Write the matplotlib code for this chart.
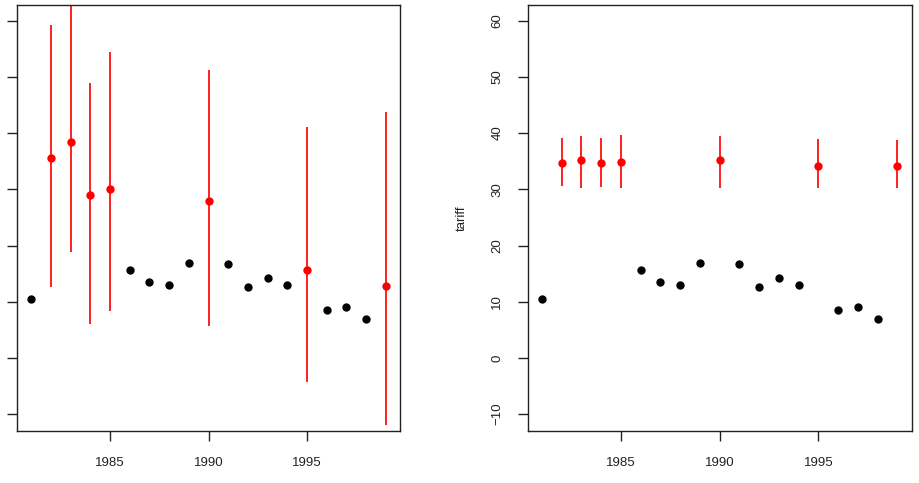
import matplotlib.pyplot as plt

plt.rcParams['font.family'] = ['Liberation Sans', 'DejaVu Sans']

# black observed points (same in both panels)
obs_years = [1981, 1986, 1987, 1988, 1989, 1991, 1992, 1993, 1994, 1996, 1997, 1998]
obs_tariff = [10.5, 15.7, 13.5, 12.9, 16.9, 16.8, 12.7, 14.2, 12.9, 8.6, 9.0, 7.0]

# red imputed points
imp_years = [1982, 1983, 1984, 1985, 1990, 1995, 1999]

# left panel: wide intervals
left_mid = [35.5, 38.4, 28.9, 30.1, 27.9, 15.7, 12.8]
left_lo = [12.7, 18.8, 6.0, 8.4, 5.7, -4.2, -12.0]
left_hi = [59.3, 66.0, 48.9, 54.4, 51.2, 41.0, 43.8]

# right panel: narrow intervals
right_mid = [34.6, 35.3, 34.7, 34.8, 35.2, 34.2, 34.1]
right_lo = [30.6, 30.3, 30.5, 30.3, 30.3, 30.3, 30.3]
right_hi = [39.2, 39.5, 39.2, 39.6, 39.5, 39.0, 38.7]

xticks = [1985, 1990, 1995]
yticks = [-10, 0, 10, 20, 30, 40, 50, 60]

fig = plt.figure(figsize=(9.2, 4.83), dpi=100)
ax1 = fig.add_axes([0.0185, 0.1077, 0.4163, 0.882])
ax2 = fig.add_axes([0.5734, 0.1077, 0.4174, 0.882])


def panel(ax, mid, lo, hi, labels):
    ax.vlines(imp_years, lo, hi, color='#ff2020', lw=1.4, zorder=2)
    ax.plot(imp_years, mid, 'o', color='red', ms=6, mec='none', zorder=3)
    ax.plot(obs_years, obs_tariff, 'o', color='black', ms=6, mec='none', zorder=3)
    ax.set_xlim(1980.28, 1999.72)
    ax.set_ylim(-13.0, 62.8)
    ax.set_xticks(xticks)
    ax.set_yticks(yticks)
    ax.tick_params(axis='x', length=7.5, width=1, pad=11, labelsize=9.5, colors='#222222')
    ax.tick_params(axis='y', length=7.5, width=1, pad=10, labelsize=9.5, colors='#222222',
                   labelleft=labels, labelrotation=90)
    for lbl in ax.get_yticklabels():
        lbl.set_verticalalignment('center')
    for s in ax.spines.values():
        s.set_color('#222222')
        s.set_linewidth(1)


panel(ax1, left_mid, left_lo, left_hi, False)
panel(ax2, right_mid, right_lo, right_hi, True)
ax2.set_ylabel('tariff', fontsize=9.5, labelpad=17, color='#222222')

fig.savefig('out.png', dpi=100)
